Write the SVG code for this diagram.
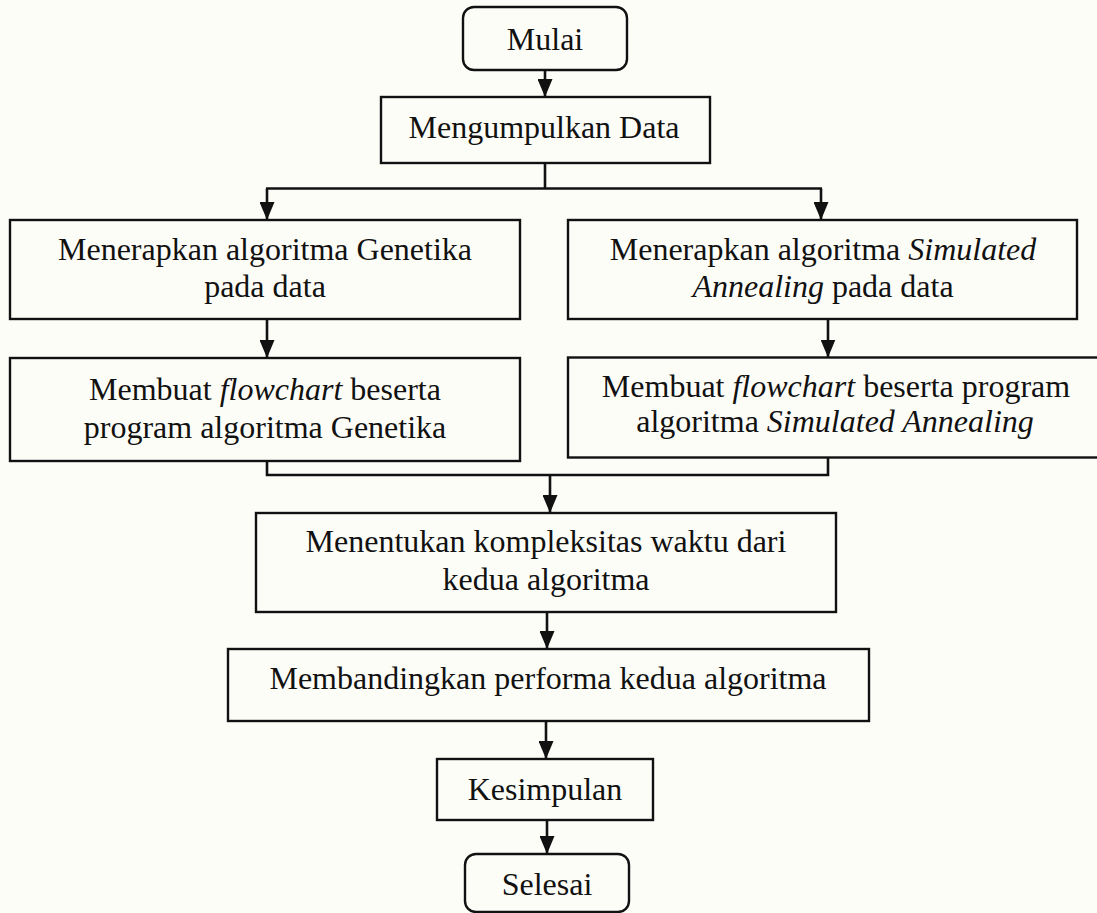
<svg xmlns="http://www.w3.org/2000/svg" width="1097" height="913" viewBox="0 0 1097 913">
  <defs>
    <marker id="arrow" viewBox="0 0 18 15" refX="18" refY="7.5" markerWidth="18" markerHeight="15" markerUnits="userSpaceOnUse" orient="auto">
      <path d="M0,0 L18,7.5 L0,15 z" fill="#111"/>
    </marker>
    <style>
      .box { fill: none; stroke: #111; stroke-width: 2.4; }
      .line { fill: none; stroke: #111; stroke-width: 2.6; }
      .arr { fill: none; stroke: #111; stroke-width: 2.6; marker-end: url(#arrow); }
      text { font-family: "Liberation Serif", "Times New Roman", serif; font-size: 32px; fill: #111; text-anchor: middle; }
      .it { font-style: italic; }
    </style>
  </defs>

  <rect x="0" y="0" width="1097" height="913" fill="#fdfdf8"/>

  <!-- connectors -->
  <g id="connectors">
    <line class="arr" x1="545" y1="70" x2="545" y2="97"/>
    <polyline class="line" points="545,163 545,188.5"/>
    <polyline class="line" points="266,188.5 822,188.5"/>
    <line class="arr" x1="267" y1="188.5" x2="267" y2="220"/>
    <line class="arr" x1="821" y1="188.5" x2="821" y2="220"/>
    <line class="arr" x1="267" y1="319" x2="267" y2="358"/>
    <line class="arr" x1="828" y1="319" x2="828" y2="357.5"/>
    <polyline class="line" points="267,461 267,475 828,475 828,457.5"/>
    <line class="arr" x1="550" y1="475" x2="550" y2="513"/>
    <line class="arr" x1="547" y1="612" x2="547" y2="649"/>
    <line class="arr" x1="546" y1="721" x2="546" y2="759"/>
    <line class="arr" x1="547" y1="820" x2="547" y2="854"/>
  </g>

  <g id="mulai">
    <rect class="box" x="463" y="7" width="164" height="63" rx="11"/>
    <text x="545" y="50">Mulai</text>
  </g>

  <g id="mengumpulkan">
    <rect class="box" x="381" y="97" width="329" height="66"/>
    <text x="544" y="138">Mengumpulkan Data</text>
  </g>

  <g id="ga-terapkan">
    <rect class="box" x="10" y="220" width="510" height="99"/>
    <text x="265" y="260">Menerapkan algoritma Genetika</text>
    <text x="265" y="297">pada data</text>
  </g>

  <g id="sa-terapkan">
    <rect class="box" x="568" y="220" width="509" height="99"/>
    <text x="823" y="260">Menerapkan algoritma <tspan class="it">Simulated</tspan></text>
    <text x="823" y="297"><tspan class="it">Annealing</tspan> pada data</text>
  </g>

  <g id="ga-program">
    <rect class="box" x="10" y="358" width="510" height="103"/>
    <text x="265" y="400">Membuat <tspan class="it">flowchart</tspan> beserta</text>
    <text x="265" y="438">program algoritma Genetika</text>
  </g>

  <g id="sa-program">
    <rect class="box" x="568" y="357.5" width="540" height="100"/>
    <text x="836" y="397">Membuat <tspan class="it">flowchart</tspan> beserta program</text>
    <text x="835" y="432">algoritma <tspan class="it">Simulated Annealing</tspan></text>
  </g>

  <g id="kompleksitas">
    <rect class="box" x="256" y="513" width="580" height="99"/>
    <text x="546" y="552">Menentukan kompleksitas waktu dari</text>
    <text x="546" y="590">kedua algoritma</text>
  </g>

  <g id="membandingkan">
    <rect class="box" x="228" y="649" width="641" height="72"/>
    <text x="548" y="689">Membandingkan performa kedua algoritma</text>
  </g>

  <g id="kesimpulan">
    <rect class="box" x="437" y="759" width="216" height="61"/>
    <text x="545" y="800">Kesimpulan</text>
  </g>

  <g id="selesai">
    <rect class="box" x="465" y="854" width="164" height="58" rx="11"/>
    <text x="547" y="895">Selesai</text>
  </g>
</svg>
